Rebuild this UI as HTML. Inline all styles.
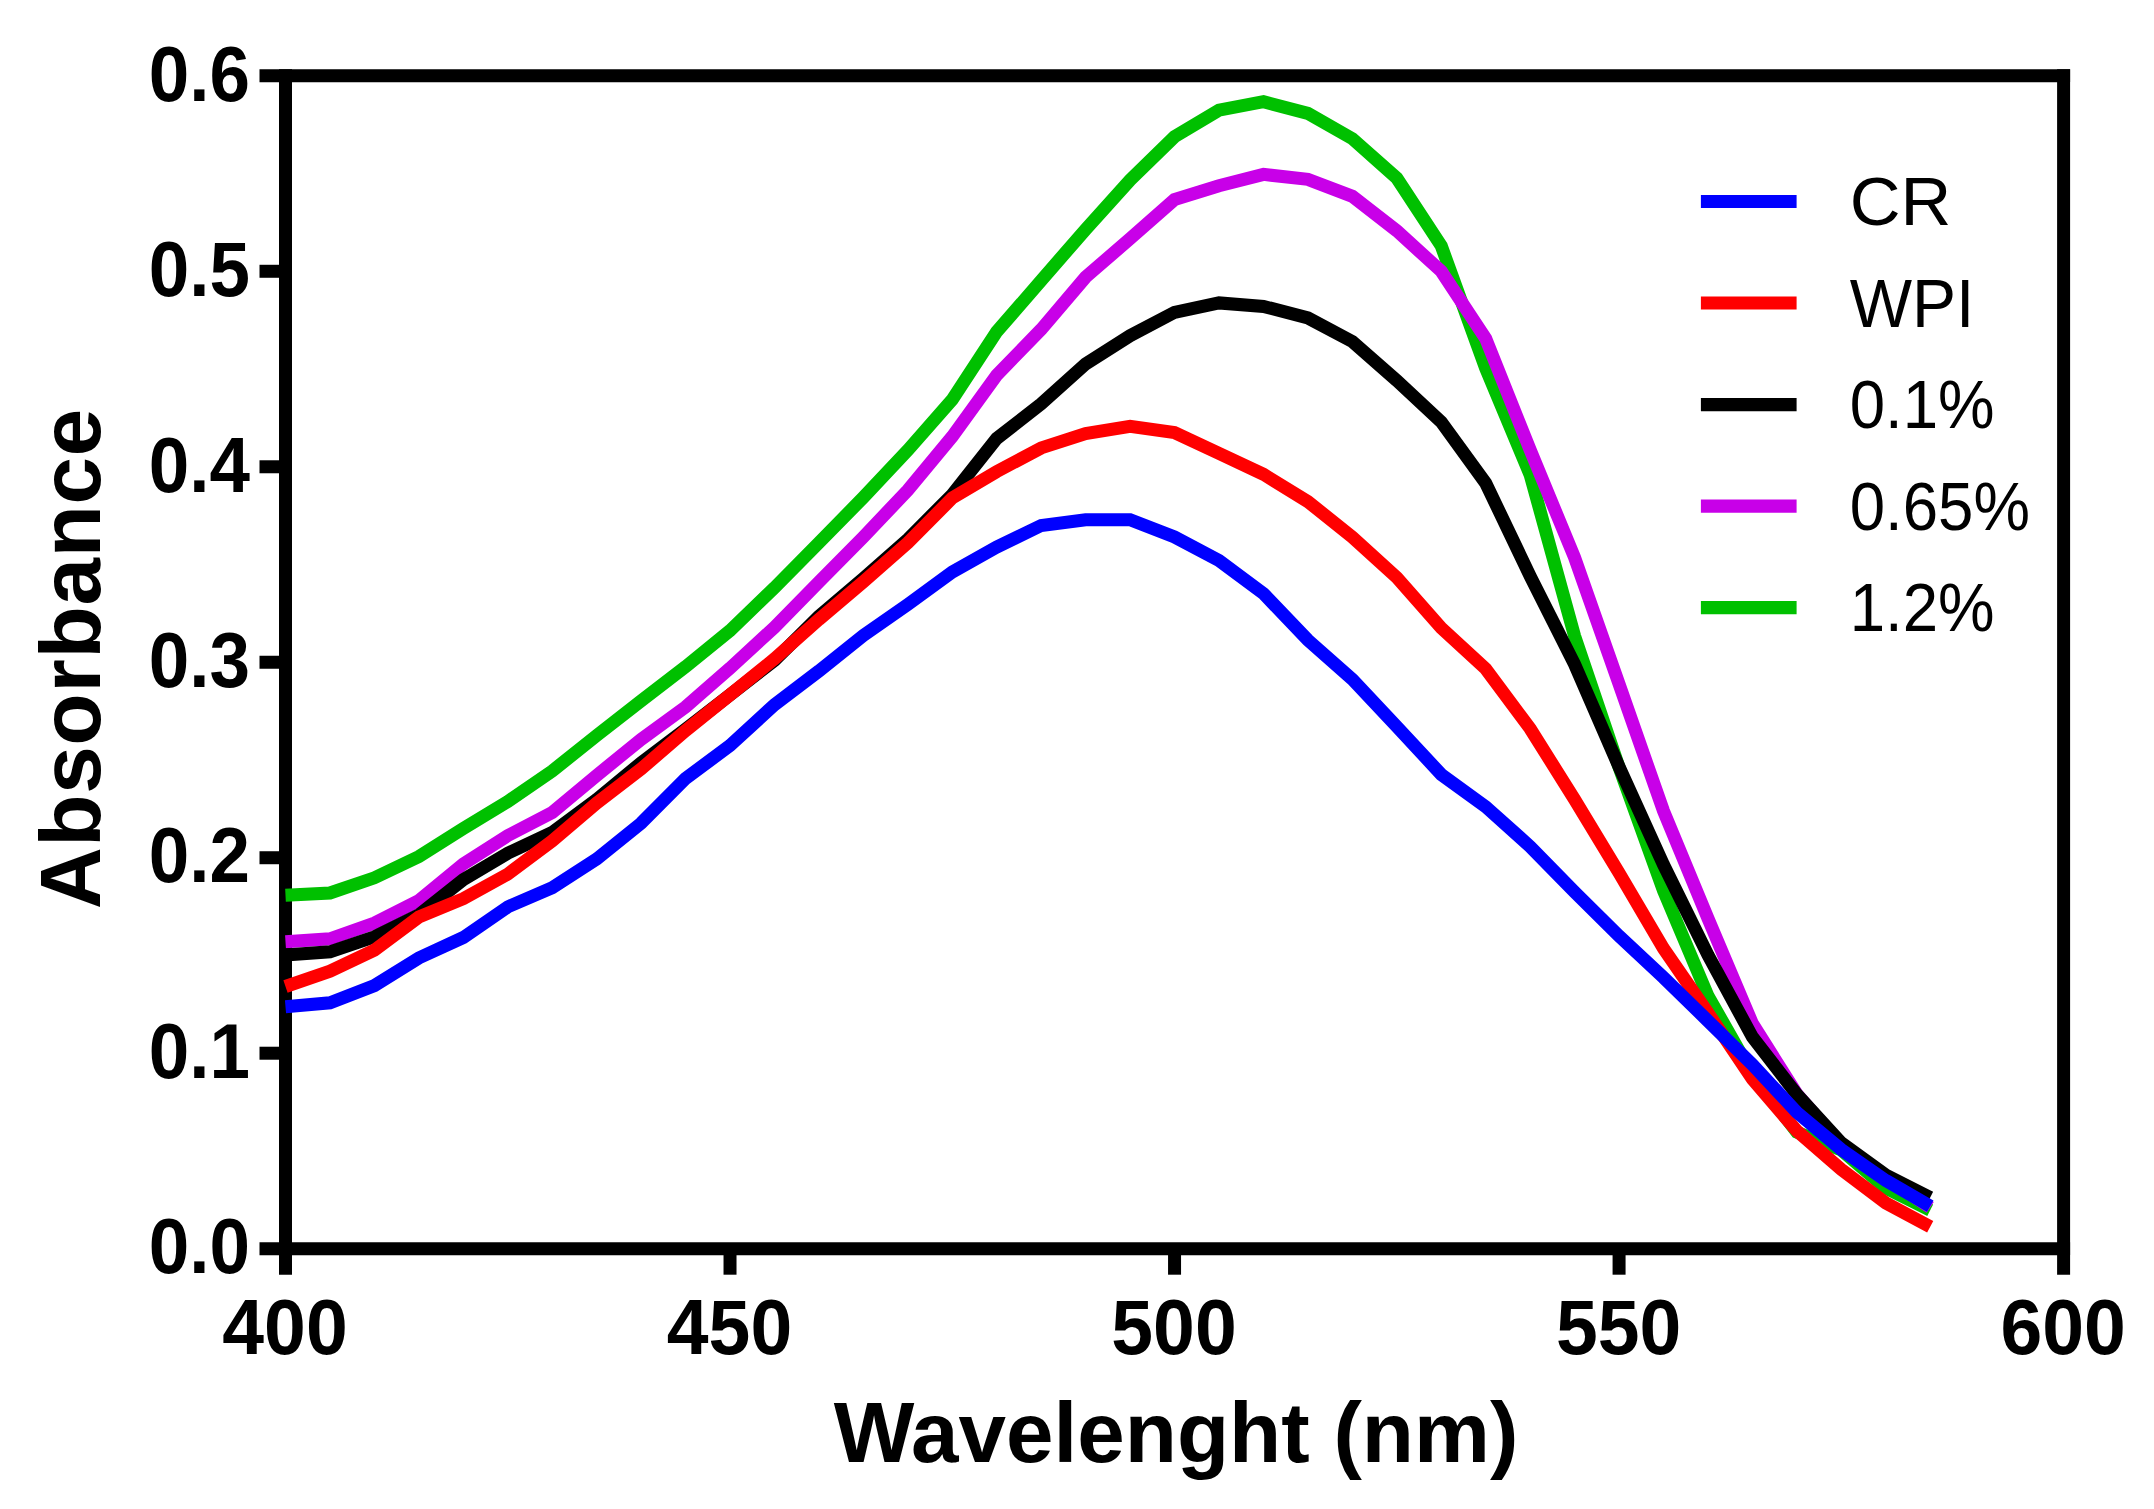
<!DOCTYPE html>
<html lang="en">
<head>
<meta charset="utf-8">
<title>Absorbance vs Wavelenght</title>
<style>
html,body{margin:0;padding:0;background:#fff;}
body{width:2154px;height:1509px;overflow:hidden;}
svg{display:block;}
text{font-family:"Liberation Sans",sans-serif;fill:#000;}
.tick{font-weight:700;font-size:77px;}
.title{font-weight:700;font-size:85.4px;}
.leg{font-weight:400;font-size:68.5px;}
.ax line{stroke:#000;stroke-width:13.0;stroke-linecap:butt;}
.data polyline{fill:none;stroke-width:13.0;stroke-linejoin:miter;stroke-miterlimit:10;stroke-linecap:butt;}
.lg line{stroke-width:13.1;stroke-linecap:butt;}
</style>
</head>
<body>
<svg width="2154" height="1509" viewBox="0 0 2154 1509">
<rect x="0" y="0" width="2154" height="1509" fill="#ffffff"/>

<g class="ax">
<line x1="285.5" y1="69.30" x2="285.5" y2="1274.70"/>
<line x1="2063.6" y1="69.30" x2="2063.6" y2="1274.70"/>
<line x1="259.50" y1="75.8" x2="2070.10" y2="75.8"/>
<line x1="259.50" y1="1248.7" x2="2070.10" y2="1248.7"/>
<line x1="259.50" y1="1053.22" x2="285.5" y2="1053.22"/>
<line x1="259.50" y1="857.73" x2="285.5" y2="857.73"/>
<line x1="259.50" y1="662.25" x2="285.5" y2="662.25"/>
<line x1="259.50" y1="466.77" x2="285.5" y2="466.77"/>
<line x1="259.50" y1="271.28" x2="285.5" y2="271.28"/>
<line x1="730.02" y1="1248.7" x2="730.02" y2="1274.70"/>
<line x1="1174.55" y1="1248.7" x2="1174.55" y2="1274.70"/>
<line x1="1619.07" y1="1248.7" x2="1619.07" y2="1274.70"/>
</g>
<g class="data">
<polyline points="285.5,895.3 330.0,893.0 374.4,877.8 418.9,856.6 463.3,828.5 507.8,801.5 552.2,771.0 596.7,735.5 641.1,700.8 685.6,666.7 730.0,630.6 774.5,587.7 818.9,542.8 863.4,497.4 907.8,450.2 952.3,399.5 996.7,331.8 1041.2,280.5 1085.6,229.4 1130.1,180.1 1174.5,136.8 1219.0,110.1 1263.5,101.7 1307.9,113.4 1352.4,138.7 1396.8,178.1 1441.3,246.0 1485.7,368.4 1530.2,475.0 1574.6,636.0 1619.1,767.5 1663.5,890.7 1708.0,996.0 1752.4,1074.0 1796.9,1132.2 1841.3,1150.0 1885.8,1188.0 1930.2,1210.3" stroke="#00c000"/>
<polyline points="285.5,941.8 330.0,938.8 374.4,923.0 418.9,900.5 463.3,864.0 507.8,835.6 552.2,812.5 596.7,775.4 641.1,739.5 685.6,707.0 730.0,668.2 774.5,627.3 818.9,582.0 863.4,537.0 907.8,490.2 952.3,436.5 996.7,375.1 1041.2,329.4 1085.6,277.2 1130.1,238.6 1174.5,199.6 1219.0,185.7 1263.5,174.4 1307.9,179.4 1352.4,196.3 1396.8,230.8 1441.3,271.3 1485.7,338.6 1530.2,450.0 1574.6,557.5 1619.1,684.2 1663.5,811.0 1708.0,918.5 1752.4,1023.5 1796.9,1094.0 1841.3,1145.0 1885.8,1178.0 1930.2,1207.4" stroke="#c800e8"/>
<polyline points="285.5,955.0 330.0,951.8 374.4,936.8 418.9,914.8 463.3,879.6 507.8,853.2 552.2,832.5 596.7,799.5 641.1,762.8 685.6,729.2 730.0,694.9 774.5,660.4 818.9,616.4 863.4,578.5 907.8,539.3 952.3,494.5 996.7,438.5 1041.2,403.8 1085.6,364.0 1130.1,335.7 1174.5,312.3 1219.0,302.9 1263.5,306.4 1307.9,317.9 1352.4,341.6 1396.8,380.5 1441.3,422.0 1485.7,483.1 1530.2,576.2 1574.6,664.3 1619.1,766.9 1663.5,864.7 1708.0,955.0 1752.4,1037.0 1796.9,1094.5 1841.3,1142.8 1885.8,1175.1 1930.2,1197.5" stroke="#000000"/>
<polyline points="285.5,986.5 330.0,971.2 374.4,950.1 418.9,917.0 463.3,898.7 507.8,874.1 552.2,841.0 596.7,803.0 641.1,769.0 685.6,730.6 730.0,694.9 774.5,658.9 818.9,619.5 863.4,581.8 907.8,542.8 952.3,498.0 996.7,471.6 1041.2,447.9 1085.6,433.6 1130.1,426.4 1174.5,432.6 1219.0,453.3 1263.5,474.3 1307.9,501.6 1352.4,537.1 1396.8,577.5 1441.3,628.0 1485.7,668.8 1530.2,728.7 1574.6,799.5 1619.1,873.0 1663.5,948.5 1708.0,1013.0 1752.4,1079.0 1796.9,1131.0 1841.3,1169.5 1885.8,1203.0 1930.2,1226.8" stroke="#ff0000"/>
<polyline points="285.5,1006.7 330.0,1002.8 374.4,985.6 418.9,957.9 463.3,937.5 507.8,906.9 552.2,887.7 596.7,859.0 641.1,823.2 685.6,778.4 730.0,745.6 774.5,704.7 818.9,671.0 863.4,635.5 907.8,604.5 952.3,572.1 996.7,547.1 1041.2,525.5 1085.6,519.8 1130.1,519.8 1174.5,537.0 1219.0,560.6 1263.5,593.6 1307.9,640.0 1352.4,679.3 1396.8,726.6 1441.3,774.5 1485.7,806.7 1530.2,846.6 1574.6,892.0 1619.1,936.0 1663.5,977.5 1708.0,1021.0 1752.4,1064.5 1796.9,1112.4 1841.3,1149.5 1885.8,1180.5 1930.2,1206.2" stroke="#0000ff"/>
</g>
<text class="tick" transform="translate(250.0,1273.4) scale(0.945,1)" text-anchor="end">0.0</text>
<text class="tick" transform="translate(250.0,1077.9) scale(0.945,1)" text-anchor="end">0.1</text>
<text class="tick" transform="translate(250.0,882.4) scale(0.945,1)" text-anchor="end">0.2</text>
<text class="tick" transform="translate(250.0,687.0) scale(0.945,1)" text-anchor="end">0.3</text>
<text class="tick" transform="translate(250.0,491.5) scale(0.945,1)" text-anchor="end">0.4</text>
<text class="tick" transform="translate(250.0,296.0) scale(0.945,1)" text-anchor="end">0.5</text>
<text class="tick" transform="translate(250.0,100.5) scale(0.945,1)" text-anchor="end">0.6</text>
<text class="tick" transform="translate(285.0,1354.0) scale(0.976,1)" text-anchor="middle">400</text>
<text class="tick" transform="translate(729.5,1354.0) scale(0.976,1)" text-anchor="middle">450</text>
<text class="tick" transform="translate(1174.0,1354.0) scale(0.976,1)" text-anchor="middle">500</text>
<text class="tick" transform="translate(1618.6,1354.0) scale(0.976,1)" text-anchor="middle">550</text>
<text class="tick" transform="translate(2063.1,1354.0) scale(0.976,1)" text-anchor="middle">600</text>
<text class="title" x="1176.0" y="1462.4" text-anchor="middle">Wavelenght (nm)</text>
<text class="title" transform="translate(99.6,658.5) rotate(-90)" text-anchor="middle" style="letter-spacing:0.77px">Absorbance</text>
<g class="lg">
<line x1="1700.9" y1="201.5" x2="1796.6" y2="201.5" stroke="#0000ff"/>
<text class="leg" transform="translate(1849.7,225.3) scale(1.027,1)">CR</text>
<line x1="1700.9" y1="303.0" x2="1796.6" y2="303.0" stroke="#ff0000"/>
<text class="leg" transform="translate(1849.7,326.8) scale(0.964,1)">WPI</text>
<line x1="1700.9" y1="404.6" x2="1796.6" y2="404.6" stroke="#000000"/>
<text class="leg" transform="translate(1849.7,428.4) scale(0.928,1)">0.1%</text>
<line x1="1700.9" y1="506.1" x2="1796.6" y2="506.1" stroke="#c800e8"/>
<text class="leg" transform="translate(1849.7,529.9) scale(0.928,1)">0.65%</text>
<line x1="1700.9" y1="607.6" x2="1796.6" y2="607.6" stroke="#00c000"/>
<text class="leg" transform="translate(1849.7,631.4) scale(0.928,1)">1.2%</text>
</g>
</svg>
</body>
</html>
